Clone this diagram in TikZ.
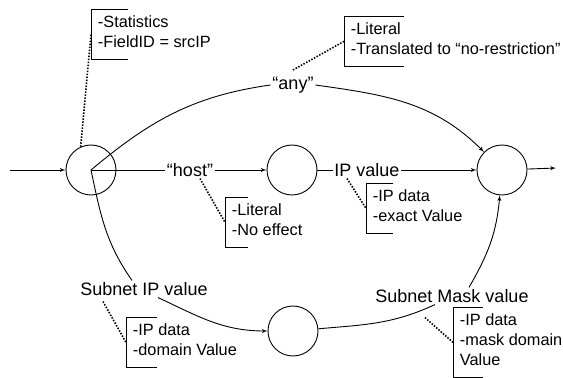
\documentclass[tikz,border=0pt]{standalone}
\usepackage{fontspec}
\setmainfont{Liberation Sans}
\usetikzlibrary{arrows}
\tikzstyle{arrow} = [->,>=latex']
\tikzstyle{state} = [draw, circle, minimum size=50pt, inner sep=0pt]
\tikzstyle{lbl} = [font=\fontsize{18}{20}\selectfont, inner sep=1.5pt]
\tikzstyle{note} = [anchor=north west, align=left, font=\fontsize{16.3}{20}\selectfont,
  inner xsep=6.5pt, inner ysep=6pt, execute at begin node=\strut, execute at end node=\strut]
\tikzstyle{dots} = [line width=1.6pt, dash pattern=on 1.5pt off 1.5pt]

\begin{document}
\begin{tikzpicture}[x=1pt,y=1pt,line width=0.9pt]
  \useasboundingbox (0,0) rectangle (563,378);
  % states
  \node[state] (c1) at (91,208) {};
  \node[state] (c2) at (292,208) {};
  \node[state] (c3) at (502,208) {};
  \node[state] (c4) at (293,47) {};
  \coordinate (in) at (10,208);
  \coordinate (out) at (556,210);
  % edge labels
  \node[lbl] (lany) at (293,293) {“any”};
  \node[lbl] (lhost) at (190,208) {“host”};
  \node[lbl] (lip) at (367,208) {IP value};
  \node[lbl] (lsubip) at (144,89) {Subnet IP value};
  \node[lbl] (lsubmask) at (452,82) {Subnet Mask value};
  % notes
  \node[note] (nstat) at (91,369) {-Statistics\\-FieldID = srcIP};
  \node[note] (nany) at (344,362) {-Literal\\-Translated to “no-restriction”};
  \node[note] (nhost) at (225,181) {-Literal\\-No effect};
  \node[note] (nip) at (366,195) {-IP data\\-exact Value};
  \node[note] (nsubip) at (126,61) {-IP data\\-domain Value};
  \node[note] (nmask) at (453,71) {-IP data\\-mask domain\\Value};
  \draw (nstat.north west) ++(37,0) -- (nstat.north west) -- (nstat.south west) -- ++(37,0);
  \draw (nany.north west) ++(60,0) -- (nany.north west) -- (nany.south west) -- ++(60,0);
  \draw (nhost.north west) ++(23,0) -- (nhost.north west) -- (nhost.south west) -- ++(23,0);
  \draw (nip.north west) ++(27,0) -- (nip.north west) -- (nip.south west) -- ++(27,0);
  \draw (nsubip.north west) ++(31,0) -- (nsubip.north west) -- (nsubip.south west) -- ++(31,0);
  \draw (nmask.north west) ++(30,0) -- (nmask.north west) -- (nmask.south west) -- ++(30,0);
  % transitions
  \draw[arrow] (in) -- (c1);
  \draw[arrow] (c3) -- (out);
  \draw (c1.center) -- (lhost);
  \draw[arrow] (lhost) -- (c2);
  \draw (c2) -- (lip);
  \draw[arrow] (lip) -- (c3);
  \draw (c1.center) to[out=40,in=188] (lany.west);
  \draw[arrow] (lany.east) to[out=-8,in=135] (c3);
  \draw (c1.center) to[out=-78,in=125] ([xshift=-12pt]lsubip.north);
  \draw[arrow] ([xshift=14pt]lsubip.south) to[out=-25,in=180] (c4);
  \draw (c4) to[out=5,in=-155] ([xshift=-17pt]lsubmask.south);
  \draw[arrow] ([xshift=17pt]lsubmask.north) to[out=60,in=-95] (c3);
  % comments
  \draw[dots] (c1.114) -- (nstat.west);
  \draw[dots] ([yshift=5pt]lany.north) -- (nany.west);
  \draw[dots] ([xshift=10pt]lhost.south) -- (nhost.west);
  \draw[dots] ([xshift=-20pt]lip.south) -- (nip.west);
  \draw[dots] ([xshift=-41pt,yshift=-4pt]lsubip.south) -- (nsubip.west);
  \draw[dots] ([xshift=-27pt,yshift=-13pt]lsubmask.south) -- (nmask.west);
\end{tikzpicture}
\end{document}
